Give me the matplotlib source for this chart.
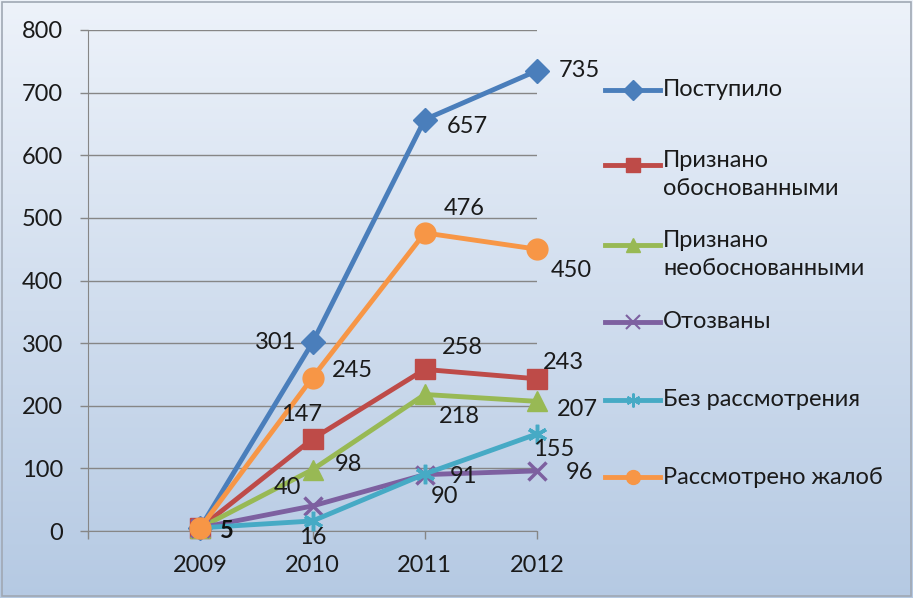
import numpy as np
import matplotlib
matplotlib.use("Agg")
import matplotlib.pyplot as plt
from matplotlib.lines import Line2D

# ---- data ----
categories = ["", "2009", "2010", "2011", "2012"]
series_names = ["Поступило", "Признано\nобоснованными", "Признано\nнеобоснованными",
                "Отозваны", "Без рассмотрения", "Рассмотрено жалоб"]
postupilo = [np.nan, 5, 301, 657, 735]
obosnov = [np.nan, 5, 147, 258, 243]
neobosnov = [np.nan, 5, 98, 218, 207]
otozvany = [np.nan, 5, 40, 90, 96]
bez_rassm = [np.nan, 5, 16, 91, 155]
rassm = [np.nan, 5, 245, 476, 450]
yticks = [0, 100, 200, 300, 400, 500, 600, 700, 800]

series = [postupilo, obosnov, neobosnov, otozvany, bez_rassm, rassm]
colors = ["#4A7EBB", "#BE4B48", "#98B954", "#7D60A0", "#46AAC5", "#F79646"]
markers = ["D", "s", "^", "x", (6, 2, 0), "o"]
msizes = [12, 14, 14, 13, 14, 15]

# label offsets in points (dx, dy, ha, va) for indices 2,3,4
offsets = [
    {2: (-12, 0, "right", "center"), 3: (16, -5, "left", "center"), 4: (16, 0, "left", "center")},
    {2: (-8, 10, "center", "bottom"), 3: (12, 8, "left", "bottom"), 4: (4, 4, "left", "bottom")},
    {2: (16, 4, "left", "center"), 3: (10, -8, "left", "top"), 4: (14, -6, "left", "center")},
    {2: (-8, 6, "right", "bottom"), 3: (4, -8, "left", "top"), 4: (21, -1, "left", "center")},
    {2: (0, -4, "center", "top"), 3: (18, -2, "left", "center"), 4: (12, -4, "center", "top")},
    {2: (14, 5, "left", "center"), 3: (14, 10, "left", "bottom"), 4: (10, -8, "left", "top")},
]

FS = 17
plt.rcParams['font.family'] = ['Lato', 'DejaVu Sans']
fig = plt.figure(figsize=(9.13, 5.98), dpi=100)

# gradient background
bg = fig.add_axes([0, 0, 1, 1], zorder=-10)
grad = np.linspace(0, 1, 256).reshape(-1, 1)
top = np.array([0.93, 0.95, 0.98])
bot = np.array([0.71, 0.79, 0.89])
img = top[None, None, :] * (1 - grad[:, :, None]) + bot[None, None, :] * grad[:, :, None]
bg.imshow(img, aspect="auto", extent=[0, 1, 0, 1])
bg.set_axis_off()
bg.add_patch(plt.Rectangle((0.002, 0.003), 0.996, 0.994, fill=False, ec="#A0A8B4", lw=1.2))

ax = fig.add_axes([88/913, 1-531/598, (537-88)/913, (531-30)/598])
ax.patch.set_alpha(0)
x = np.arange(len(categories))
for s, c, m, ms in zip(series, colors, markers, msizes):
    ax.plot(x, s, color=c, lw=3.5, marker=m, ms=ms, mec=c, mfc=c,
            mew=2.5 if m in ("x", (6, 2, 0)) else 1,
            solid_capstyle="round", zorder=3, clip_on=False)

for s, offs in zip(series, offsets):
    for i, (dx, dy, ha, va) in offs.items():
        ax.annotate(f"{s[i]:g}", (x[i], s[i]), xytext=(dx, dy), textcoords="offset points",
                    ha=ha, va=va, fontsize=FS, color="#1a1a1a", zorder=5)
ax.annotate("5", (x[1], 5), xytext=(14, -2), textcoords="offset points", ha="left", va="center",
            fontsize=FS, fontweight="bold", color="#111111", zorder=5)

ax.set_xlim(0, 4)
ax.set_ylim(0, 800)
ax.set_yticks(yticks)
ax.set_xticks(x)
ax.set_xticklabels(categories)
ax.yaxis.grid(True, color="#868686", lw=1)
ax.set_axisbelow(True)
for sp in ["top", "right"]:
    ax.spines[sp].set_visible(False)
for sp in ["left", "bottom"]:
    ax.spines[sp].set_color("#868686")
ax.tick_params(axis="both", colors="#868686", labelcolor="#1a1a1a", labelsize=FS, length=6, width=1)
ax.tick_params(axis="y", pad=12)
ax.tick_params(axis="x", pad=11)

# legend drawn manually on the right
leg_y = [90, 165, 245, 322, 400, 477]
for name, c, m, yy in zip(series_names, colors, markers, leg_y):
    yf = 1 - yy / 598
    fig.add_artist(Line2D([605/913, 660/913], [yf, yf], transform=fig.transFigure, color=c, lw=3.5))
    fig.add_artist(Line2D([632.5/913], [yf], transform=fig.transFigure, color=c, marker=m, ms=10,
                          mec=c, mfc=c, mew=1.5 if m in ("x", (6, 2, 0)) else 1, lw=0))
    if "\n" in name:
        fig.text(663/913, yf + 15/598, name, ha="left", va="top", fontsize=FS, color="#1a1a1a",
                 linespacing=1.4)
    else:
        fig.text(663/913, yf, name, ha="left", va="center", fontsize=FS, color="#1a1a1a")

fig.savefig("out.png", dpi=100)
